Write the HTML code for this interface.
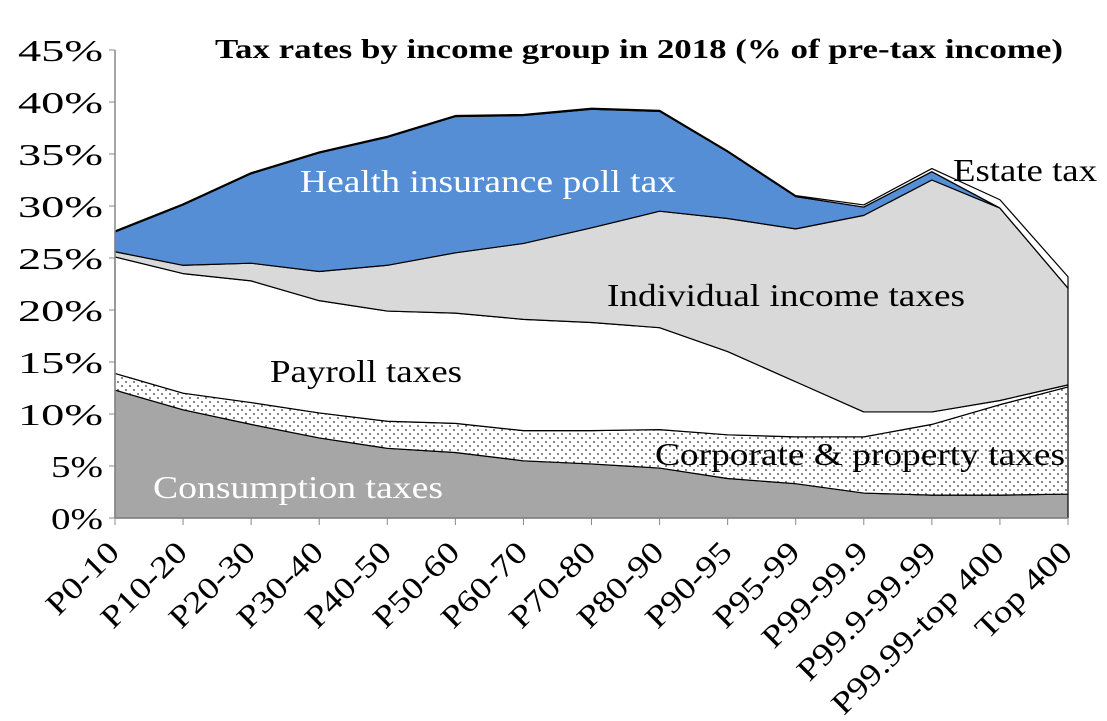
<!DOCTYPE html>
<html><head><meta charset="utf-8"><style>
body{margin:0;background:#fff}
svg{display:block;font-family:"Liberation Serif",serif}
</style></head><body>
<svg id="chart" width="1107" height="721" viewBox="0 0 1107 721">
<defs>
<pattern id="dots" width="8" height="8" patternUnits="userSpaceOnUse">
<rect width="8" height="8" fill="#fff"/><circle cx="2" cy="2" r="0.9" fill="#333"/><circle cx="6" cy="6" r="0.9" fill="#333"/>
</pattern>
</defs>
<g id="layers"></g>
<g id="axes"></g>
<text x="215" y="58" font-size="27" font-weight="bold" textLength="848" lengthAdjust="spacingAndGlyphs">Tax rates by income group in 2018 (% of pre-tax income)</text>
<text x="300" y="192" font-size="32" fill="#fff" textLength="376" lengthAdjust="spacingAndGlyphs">Health insurance poll tax</text>
<text x="953" y="181" font-size="32" textLength="144" lengthAdjust="spacingAndGlyphs">Estate tax</text>
<text x="607" y="306" font-size="32" textLength="358" lengthAdjust="spacingAndGlyphs">Individual income taxes</text>
<text x="270" y="382" font-size="32" textLength="192" lengthAdjust="spacingAndGlyphs">Payroll taxes</text>
<text x="655" y="465" font-size="32" textLength="410" lengthAdjust="spacingAndGlyphs">Corporate &amp; property taxes</text>
<text x="153" y="498" font-size="32" fill="#fff" textLength="290" lengthAdjust="spacingAndGlyphs">Consumption taxes</text>
</svg>
<script>
const categories=["P0-10","P10-20","P20-30","P30-40","P40-50","P50-60","P60-70","P70-80","P80-90","P90-95","P95-99","P99-99.9","P99.9-99.99","P99.99-top 400","Top 400"];
const consumption=[12.3,10.4,9.0,7.7,6.7,6.3,5.5,5.2,4.8,3.8,3.3,2.4,2.2,2.2,2.3];
const corporate=[1.6,1.6,2.1,2.4,2.6,2.8,2.9,3.2,3.7,4.2,4.5,5.4,6.8,8.7,10.3];
const payroll=[11.2,11.5,11.7,10.8,10.6,10.6,10.7,10.4,9.8,8.0,5.3,2.4,1.2,0.4,0.2];
const individual=[0.5,0.8,1.7,2.8,4.4,5.8,7.3,9.1,11.2,12.8,14.7,18.9,22.3,18.5,9.3];
const health=[1.9,5.8,8.6,11.4,12.3,13.1,12.3,11.4,9.6,6.4,3.1,0.8,0.8,0.0,0.0];
const estate=[0.1,0.1,0.1,0.1,0.1,0.1,0.1,0.1,0.1,0.1,0.1,0.2,0.3,0.8,1.1];
const yTicks=[0,5,10,15,20,25,30,35,40,45];
const NS="http://www.w3.org/2000/svg";
const x0=115,x1=1068,yBase=518,pxPer=10.4;
function xs(i){return x0+i*(x1-x0)/(categories.length-1);}
function ys(v){return yBase-v*pxPer;}
const layers=[["consumption",consumption,"#a6a6a6"],["corporate",corporate,"url(#dots)"],["payroll",payroll,"#fff"],["individual",individual,"#d9d9d9"],["health",health,"#558ed5"],["estate",estate,"#fff"]];
const g=document.getElementById("layers");
let base=categories.map(()=>0);
layers.forEach(([name,vals,fill])=>{
  const top=base.map((b,i)=>b+vals[i]);
  let d="M"+categories.map((c,i)=>xs(i)+","+ys(top[i])).join(" L");
  for(let i=categories.length-1;i>=0;i--)d+=" L"+xs(i)+","+ys(base[i]);
  d+=" Z";
  const p=document.createElementNS(NS,"path");
  p.setAttribute("d",d);p.setAttribute("fill",fill);p.setAttribute("stroke","#000");p.setAttribute("stroke-width","1.2");p.setAttribute("stroke-linejoin","round");
  
  
  g.appendChild(p);
  base=top;
});
const ax=document.getElementById("axes");
function el(t,a){const e=document.createElementNS(NS,t);for(const k in a)e.setAttribute(k,a[k]);ax.appendChild(e);return e;}
const yl=el("line",{x1:x0,y1:ys(45),x2:x0,y2:yBase,stroke:"#888","stroke-width":1.5});


const xl=el("line",{x1:x0,y1:yBase,x2:x1,y2:yBase,stroke:"#888","stroke-width":1.5});


yTicks.forEach(v=>{
  const tk=el("line",{x1:x0-6,y1:ys(v),x2:x0,y2:ys(v),stroke:"#888"});
  
  
  const lab=v+"%";
  const t=el("text",{x:x0-12,y:ys(v)+11,"text-anchor":"end","font-size":"31",textLength:lab.length===3?85:52,lengthAdjust:"spacingAndGlyphs"});
  t.textContent=lab;
  
  
});
categories.forEach((c,i)=>{
  const tk=el("line",{x1:xs(i),y1:yBase,x2:xs(i),y2:yBase+7,stroke:"#888"});
  
  
  const ax2=xs(i)+6, ay=yBase+36;
  const t=el("text",{x:ax2,y:ay,"text-anchor":"end","font-size":"31",transform:"rotate(-45 "+ax2+" "+ay+")"});
  t.textContent=c;
  
  
  const L=t.getComputedTextLength();
  t.setAttribute("textLength",L*1.2);
  t.setAttribute("lengthAdjust","spacingAndGlyphs");
});
</script>
</body></html>
